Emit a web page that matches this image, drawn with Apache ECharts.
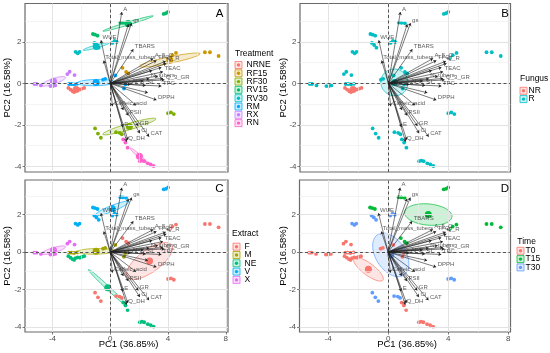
<!DOCTYPE html>
<html><head><meta charset="utf-8">
<script src="https://cdn.jsdelivr.net/npm/echarts@6/dist/echarts.min.js"></script>
<style>html,body{margin:0;padding:0;background:#fff}#c{width:550px;height:353px}</style>
</head><body><div id="c"></div>
<script>
// ---------------- DATA ----------------
const treatments = ['NRNE','RF15','RF30','RV15','RV30','RM','RX','RN'];
const fungusOf  = ['NR','R','R','R','R','R','R','R'];
const extractOf = ['NE','F','F','V','V','M','X','NE'];
const timeOf    = ['T0','T15','T30','T15','T30','T0','T0','T0'];
const fungusLevels  = ['NR','R'];
const extractLevels = ['F','M','NE','V','X'];
const timeLevels    = ['T0','T15','T30'];

// individual scores (PC1, PC2) per treatment
const nrneX = [-2.9,-2.75,-2.6,-2.5,-2.4,-2.25,-2.1,-1.95,-1.8];
const nrneY = [-0.22,-0.3,-0.38,-0.42,-0.32,-0.28,-0.3,-0.25,-0.22];
const rf15X = [0.85,1.1,1.25,4.05,4.3,4.55,6.55,6.9,7.5];
const rf15Y = [0.75,0.55,0.48,1.2,1.36,1.47,1.5,1.5,1.32];
const rf30X = [-1.05,-0.85,-0.65,0.4,0.65,0.8,4.0,4.2,4.4];
const rf30Y = [-2.17,-2.42,-2.62,-2.35,-2.38,-2.45,-1.44,-1.4,-1.48];
const rv15X = [-1.2,-1.05,-0.88,0.7,0.88,1.1,3.7,3.85,4.0];
const rv15Y = [2.38,2.35,2.3,2.93,2.92,2.9,3.35,3.38,3.45];
const rv30X = [-2.4,-2.25,-2.12,-1.1,-0.95,-0.8,0.15,0.3,0.45];
const rv30Y = [1.52,1.45,1.52,1.95,1.85,1.72,1.95,2.05,2.0];
const rmX   = [-2.85,-2.68,-2.5,-2.3,-0.5,-0.35,0.35,0.95,1.05];
const rmY   = [-0.03,-0.03,-0.05,-0.02,0.18,0.22,0.38,-0.25,-0.05];
const rxX   = [-5.25,-5.1,-4.8,-4.14,-3.97,-3.81,-2.97,-2.81,-2.47];
const rxY   = [-0.03,-0.03,-0.1,-0.13,-0.13,-0.1,0.45,0.56,0.4];
const rnX   = [0.9,1.05,1.2,2.05,2.2,2.35,2.6,2.8,3.0];
const rnY   = [-2.7,-2.85,-3.1,-3.75,-3.72,-3.75,-3.85,-3.9,-3.98];

// variable loadings (arrow tips)
const varNames = ['A','gs','','WUE','TBARS','Total_mass_tubers','A_5_C','TFC','Q_R','','','TEAC','','N_tubers','','Q_3_GR','','','TPC','APX','SI','DPPH','','Caffeic_acid','','PSII','','GR','Ci','CAT','Q_DH','','E'];
const varPC1 = [0.80,1.48,1.26,-0.64,1.60,-0.45,2.97,3.20,3.84,3.88,3.54,3.65,2.90,2.70,3.65,3.75,3.30,2.30,3.54,1.40,2.45,3.20,2.60,0.15,1.78,1.25,0.91,1.94,2.05,2.69,1.14,1.22,0.87];
const varPC2 = [3.44,2.91,2.85,2.08,1.65,1.10,1.20,1.10,1.07,0.96,0.77,0.56,0.62,0.22,0.24,0.17,0.35,0.12,-0.13,-0.05,-0.10,-0.80,-0.45,-1.10,-1.05,-1.55,-1.28,-2.05,-2.40,-2.57,-2.81,-2.72,-2.10];

const xTicks = [-4,0,4,8];
const yTicks = [-4,-2,0,2];
const xTitle = 'PC1 (36.85%)';
const yTitle = 'PC2 (16.58%)';

// ---------------- STYLE ----------------
const FONT = '"Liberation Sans", Arial, sans-serif';
const XMIN = -5.9, XMAX = 8.15, YMIN = -4.27, YMAX = 3.85;
const treatData = [[nrneX,nrneY],[rf15X,rf15Y],[rf30X,rf30Y],[rv15X,rv15Y],[rv30X,rv30Y],[rmX,rmY],[rxX,rxY],[rnX,rnY]];

function collect(levels, mapArr){
  return levels.map(l=>{
    const xs=[], ys=[];
    treatments.forEach((t,i)=>{ if(mapArr[i]===l){ xs.push(...treatData[i][0]); ys.push(...treatData[i][1]); } });
    return {name:l, xs, ys};
  });
}
function rgba(hex,a){const n=parseInt(hex.slice(1),16);return `rgba(${n>>16},${(n>>8)&255},${n&255},${a})`;}
function ellipse(xs, ys){
  const n=xs.length; const mx=xs.reduce((a,b)=>a+b,0)/n, my=ys.reduce((a,b)=>a+b,0)/n;
  let sxx=0,syy=0,sxy=0;
  for(let i=0;i<n;i++){const dx=xs[i]-mx, dy=ys[i]-my; sxx+=dx*dx; syy+=dy*dy; sxy+=dx*dy;}
  sxx/=(n-1); syy/=(n-1); sxy/=(n-1);
  const k = Math.sqrt(5.991/n);
  const tr=sxx+syy, det=sxx*syy-sxy*sxy, disc=Math.sqrt(Math.max(tr*tr/4-det,0));
  const l1=tr/2+disc, l2=Math.max(tr/2-disc,0);
  const th = Math.abs(sxy)>1e-12 ? Math.atan2(l1-sxx, sxy) : (sxx>=syy?0:Math.PI/2);
  const r1=k*Math.sqrt(l1), r2=k*Math.sqrt(l2);
  const pts=[];
  for(let j=0;j<80;j++){const t=j/80*2*Math.PI;
    pts.push([mx + r1*Math.cos(t)*Math.cos(th) - r2*Math.sin(t)*Math.sin(th),
              my + r1*Math.cos(t)*Math.sin(th) + r2*Math.sin(t)*Math.cos(th)]);}
  return {mx,my,pts};
}

const panels = [
  {letter:'A', grid:{left:25,top:3.5,width:203,height:168.5}, showX:false,
   groups:collect(treatments,treatments), colors:['#F8766D','#CD9600','#7CAE00','#00BE67','#00BFC4','#00A9FF','#C77CFF','#FF61CC'],
   legendTitle:'Treatment', leg:{x:235, ty:54, ky:65, kx:235, lx:246.5},
   letterPos:[223.5,13.5], yTitleX:7.3},
  {letter:'B', grid:{left:300,top:3.5,width:210.5,height:168.5}, showX:false,
   groups:collect(fungusLevels,fungusOf), colors:['#F8766D','#00BFC4'],
   legendTitle:'Fungus', leg:{x:520, ty:78.3, ky:90.8, kx:520, lx:528.5},
   letterPos:[509,13.5], yTitleX:283.3},
  {letter:'C', grid:{left:25,top:180,width:203,height:152}, showX:true,
   groups:collect(extractLevels,extractOf), colors:['#F8766D','#A3A500','#00BF7D','#00B0F6','#E76BF3'],
   legendTitle:'Extract', leg:{x:232, ty:233.3, ky:246.7, kx:233, lx:244.5},
   letterPos:[223.5,188.5], yTitleX:7.3},
  {letter:'D', grid:{left:299.5,top:180,width:211,height:152}, showX:true,
   groups:collect(timeLevels,timeOf), colors:['#F8766D','#00BA38','#619CFF'],
   legendTitle:'Time', leg:{x:517.3, ty:241.7, ky:250.8, kx:517, lx:525.5},
   letterPos:[509,188.5], yTitleX:283.3}
];

const series=[]; const graphic=[];
panels.forEach((p,pi)=>{
  const ax={xAxisIndex:pi,yAxisIndex:pi};
  const gl=[];
  [-4,0,4,8].forEach(v=>gl.push({xAxis:v,lineStyle:{color:'#E3E3E3',width:1,type:'solid'}}));
  [-2,2,6].forEach(v=>gl.push({xAxis:v,lineStyle:{color:'#EDEDED',width:0.6,type:'solid'}}));
  [-4,-2,0,2].forEach(v=>gl.push({yAxis:v,lineStyle:{color:'#E3E3E3',width:1,type:'solid'}}));
  [-3,-1,1,3].forEach(v=>gl.push({yAxis:v,lineStyle:{color:'#EDEDED',width:0.6,type:'solid'}}));
  series.push({type:'scatter',...ax,data:[[0,0]],symbolSize:0,silent:true,z:0,
    markLine:{silent:true,symbol:['none','none'],label:{show:false},animation:false,data:gl}});
  series.push({type:'scatter',...ax,data:[[0,0]],symbolSize:0,silent:true,z:1,
    markLine:{silent:true,symbol:['none','none'],label:{show:false},animation:false,
      lineStyle:{color:'#444',width:0.9,type:[3,2.5]},data:[{xAxis:0},{yAxis:0}]}});
  const ells=p.groups.map((g,gi)=>Object.assign(ellipse(g.xs,g.ys),{color:p.colors[gi]}));
  series.push({type:'custom',...ax,z:2,silent:true,clip:true,
    data:ells.map(e=>[e.mx,e.my]), encode:{x:0,y:1},
    renderItem:(params,api)=>{const e=ells[params.dataIndex];
      return {type:'polygon',shape:{points:e.pts.map(q=>api.coord(q))},
        style:{fill:rgba(e.color,0.2),stroke:e.color,lineWidth:0.7}};}});
  p.groups.forEach((g,gi)=>{
    series.push({type:'scatter',...ax,z:3,silent:true,symbolSize:3.8,
      itemStyle:{color:p.colors[gi],opacity:1},data:g.xs.map((x,i)=>[x,g.ys[i]])});
  });
  p.groups.forEach((g,gi)=>{
    series.push({type:'scatter',...ax,z:4,silent:true,symbolSize:7,
      itemStyle:{color:p.colors[gi],opacity:1},data:[[ells[gi].mx,ells[gi].my]]});
  });
  series.push({type:'lines',coordinateSystem:'cartesian2d',...ax,z:5,silent:true,
    symbol:['none','arrow'],symbolSize:[3,3],
    lineStyle:{color:'#222',width:0.6,opacity:1,curveness:0},
    data:varPC1.map((x,i)=>({coords:[[0,0],[x,varPC2[i]]]}))});
  series.push({type:'scatter',...ax,z:6,silent:true,symbolSize:1,itemStyle:{color:'rgba(0,0,0,0)'},
    label:{show:true,position:'right',distance:1,offset:[0,-3],fontSize:6,color:'#333',fontFamily:FONT,formatter:d=>d.name},
    data:varNames.map((n,i)=>({name:n,value:[varPC1[i],varPC2[i]]})).filter(d=>d.name!=='')});

  const g=p.grid;
  graphic.push({type:'text',x:p.yTitleX,y:g.top+g.height/2,rotation:Math.PI/2,silent:true,
    style:{text:yTitle,font:`9.5px ${FONT}`,fill:'#000',align:'center',verticalAlign:'middle',textAlign:'center',textVerticalAlign:'middle'}});
  if(p.showX){
    graphic.push({type:'text',x:g.left+g.width/2+2,y:344.3,silent:true,
      style:{text:xTitle,font:`9.5px ${FONT}`,fill:'#000',align:'center',verticalAlign:'middle',textAlign:'center',textVerticalAlign:'middle'}});
  }
  graphic.push({type:'text',x:p.letterPos[0],y:p.letterPos[1],silent:true,z:100,
    style:{text:p.letter,font:`11.5px ${FONT}`,fill:'#000',align:'right',verticalAlign:'middle',textAlign:'right',textVerticalAlign:'middle'}});
  graphic.push({type:'text',x:p.leg.x,y:p.leg.ty,silent:true,
    style:{text:p.legendTitle,font:`8.5px ${FONT}`,fill:'#000',align:'left',verticalAlign:'middle',textAlign:'left',textVerticalAlign:'middle'}});
  p.groups.forEach((gr,gi)=>{
    const cy=p.leg.ky+gi*8.3, c=p.colors[gi];
    graphic.push({type:'rect',silent:true,shape:{x:p.leg.kx,y:cy-3.5,width:7,height:7},
      style:{fill:rgba(c,0.2),stroke:c,lineWidth:0.8}});
    graphic.push({type:'circle',silent:true,shape:{cx:p.leg.kx+3.5,cy:cy,r:1.7},style:{fill:c}});
    graphic.push({type:'text',x:p.leg.lx,y:cy,silent:true,
      style:{text:gr.name,font:`8.5px ${FONT}`,fill:'#000',align:'left',verticalAlign:'middle',textAlign:'left',textVerticalAlign:'middle'}});
  });
});

const option={
  animation:false,
  backgroundColor:'#fff',
  grid:panels.map(p=>Object.assign({show:true,backgroundColor:'#fff',borderColor:'#6a6a6a',borderWidth:1.2,containLabel:false},p.grid)),
  xAxis:panels.map((p,i)=>({type:'value',gridIndex:i,min:XMIN,max:XMAX,
    splitLine:{show:false},axisLine:{show:false,onZero:false},
    axisTick:{show:p.showX,customValues:xTicks,length:2.5,lineStyle:{color:'#444',width:0.7}},
    axisLabel:{show:p.showX,customValues:xTicks,color:'#4D4D4D',fontSize:8,margin:3,fontFamily:FONT}})),
  yAxis:panels.map((p,i)=>({type:'value',gridIndex:i,min:YMIN,max:YMAX,
    splitLine:{show:false},axisLine:{show:false,onZero:false},
    axisTick:{show:true,customValues:yTicks,length:2.5,lineStyle:{color:'#444',width:0.7}},
    axisLabel:{show:true,customValues:yTicks,color:'#4D4D4D',fontSize:8,margin:3.5,fontFamily:FONT}})),
  series, graphic
};
const chart=echarts.init(document.getElementById('c'),null,{renderer:'canvas'});
chart.setOption(option);
</script></body></html>
